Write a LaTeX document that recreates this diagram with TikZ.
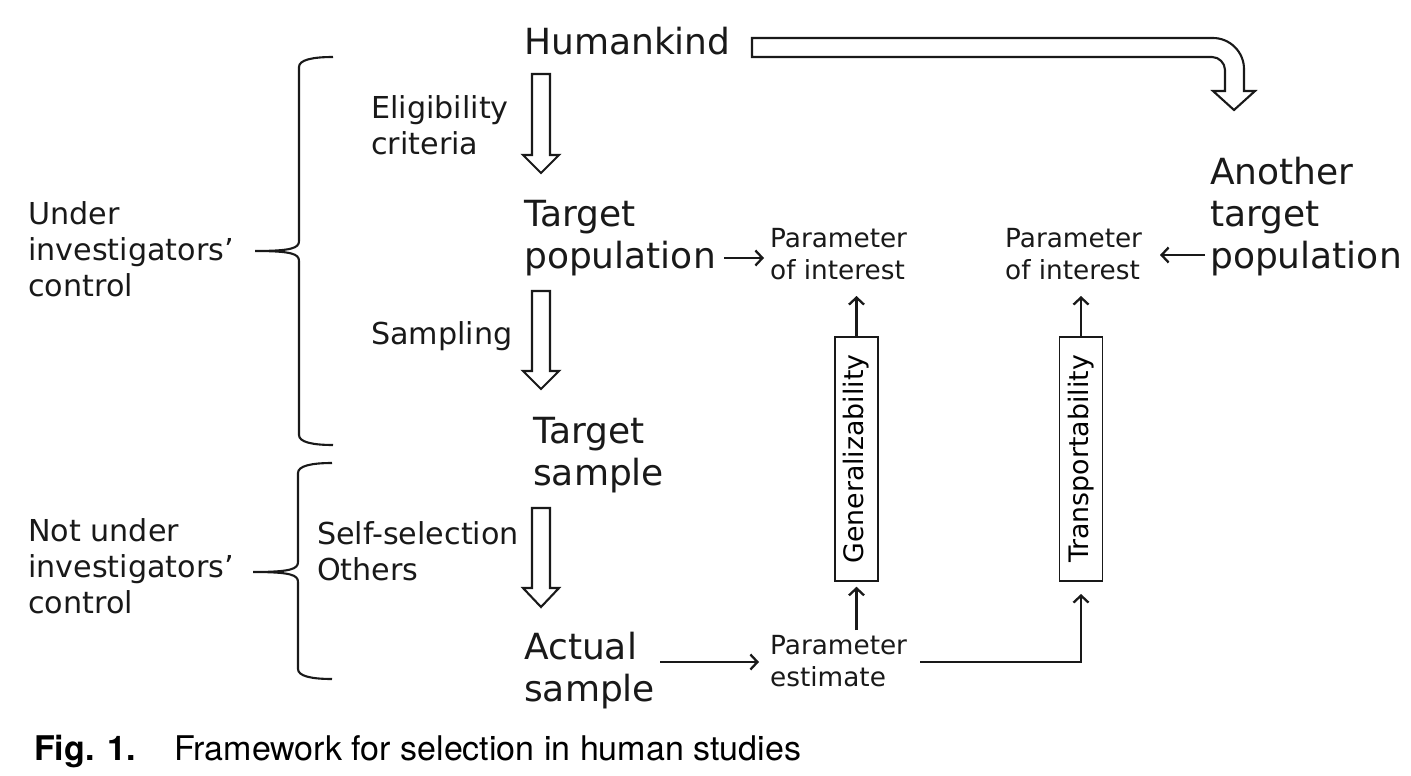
\documentclass[tikz,border=0pt]{standalone}
\usepackage{fontspec}
\setmainfont{DejaVu Sans}
\newfontfamily\capfont{TeX Gyre Heros}
\usetikzlibrary{arrows.meta}
\newcommand\ml[1]{\begin{tabular}[t]{@{}l@{}}#1\end{tabular}}
\tikzset{
  txt/.style={inner sep=0pt, anchor=base west, text=black!90},
  big/.style={txt, font=\fontsize{36}{42}\selectfont},
  med/.style={txt, font=\fontsize{30.2}{36}\selectfont},
  sml/.style={txt, font=\fontsize{26.3}{32}\selectfont},
  arr/.style={draw=black!90, line width=2.3pt, -{Straight Barb[length=7pt,width=15pt]}},
  hollow/.style={draw=black!90, line width=2.1pt, line join=miter},
  brace/.style={draw=black!90, line width=2.1pt},
  vbox/.style={draw=black!90, line width=1.5pt, rotate=90, minimum width=244pt, minimum height=43pt, inner sep=0pt, font=\fontsize{26.8}{32}\selectfont},
}
\begin{document}
\begin{tikzpicture}[x=1pt,y=-1pt]
\useasboundingbox (0,0) rectangle (1411,776);
% texts
\node[big] (hk) at (524,55) {Humankind};
\node[med] (elig) at (371,118) {\ml{Eligibility\\criteria}};
\node[big] (tp) at (524,226) {\ml{Target\\population}};
\node[med] (samp) at (371,344) {Sampling};
\node[big] (ts) at (533,443) {\ml{Target\\sample}};
\node[med] (ss) at (317,544) {\ml{Self-selection\\Others}};
\node[big] (as) at (524,659) {\ml{Actual\\sample}};
\node[med] (uic) at (28,224) {\ml{Under\\investigators’\\control}};
\node[med] (nuic) at (28,541) {\ml{Not under\\investigators’\\control}};
\node[sml] (poi1) at (770,247) {\ml{Parameter\\of interest}};
\node[sml] (poi2) at (1005,247) {\ml{Parameter\\of interest}};
\node[sml] (pe) at (770,654) {\ml{Parameter\\estimate}};
\node[big] (atp) at (1210,184) {\ml{Another\\target\\population}};
\node[vbox] (gen) at (856.5,459) {Generalizability};
\node[vbox] (trans) at (1081,459) {Transportability};
\node[inner sep=0pt, anchor=base west, font=\capfont\bfseries\fontsize{34}{40}\selectfont] (fig) at (34,760) {Fig. 1.};
\node[inner sep=0pt, anchor=base west, font=\capfont\fontsize{34}{40}\selectfont] (capt) at (174,760) {Framework for selection in human studies};
% coordinates for connector ends
\coordinate (tpE) at (724,258);
\coordinate (poi1W) at (764,258);
\coordinate (atpW) at (1205,255);
\coordinate (poi2E) at (1160,255);
\coordinate (asE) at (660,662);
\coordinate (peW) at (759,662);
\coordinate (peE) at (920,662);
\coordinate (peN) at (856.5,630);
\coordinate (poi1S) at (856.5,296);
\coordinate (poi2S) at (1081,296);
\coordinate (transS) at (1081,594);
% thin arrows
\draw[arr] (tpE) -- (poi1W);
\draw[arr] (atpW) -- (poi2E);
\draw[arr] (asE) -- (peW);
\draw[arr] (gen.east) -- (poi1S);
\draw[arr] (trans.east) -- (poi2S);
\draw[arr, shorten >=5pt] (peN) -- (gen.west);
\draw[arr] (peE) -| (transS);
% hollow arrows
\draw[hollow] (532,74) -- (550,74) -- (550,155) -- (559,155) -- (541,173) -- (523,155) -- (532,155) -- cycle;
\draw[hollow] (532,291) -- (550,291) -- (550,371) -- (559,371) -- (541,389) -- (523,371) -- (532,371) -- cycle;
\draw[hollow] (532,508) -- (550,508) -- (550,588) -- (559,588) -- (541,607) -- (523,588) -- (532,588) -- cycle;
\draw[hollow] (752,38) -- (1213,38) .. controls (1230,38) and (1244,52) .. (1244,69) -- (1244,91) -- (1255,91) -- (1234,110) -- (1213,91) -- (1225,91) -- (1225,70) .. controls (1225,63) and (1219,57) .. (1212,57) -- (752,57) -- cycle;
% braces
\draw[brace] (333,57) .. controls (312,57) and (299,60) .. (299,67) -- (299,241) .. controls (299,248) and (292,251) .. (255,251) .. controls (292,251) and (299,254) .. (299,261) -- (299,435) .. controls (299,442) and (312,445) .. (333,445);
\draw[brace] (332,463) .. controls (311,463) and (298,466) .. (298,473) -- (298,562) .. controls (298,569) and (291,572) .. (253,572) .. controls (291,572) and (298,575) .. (298,582) -- (298,669) .. controls (298,676) and (311,679) .. (332,679);
\end{tikzpicture}
\end{document}
